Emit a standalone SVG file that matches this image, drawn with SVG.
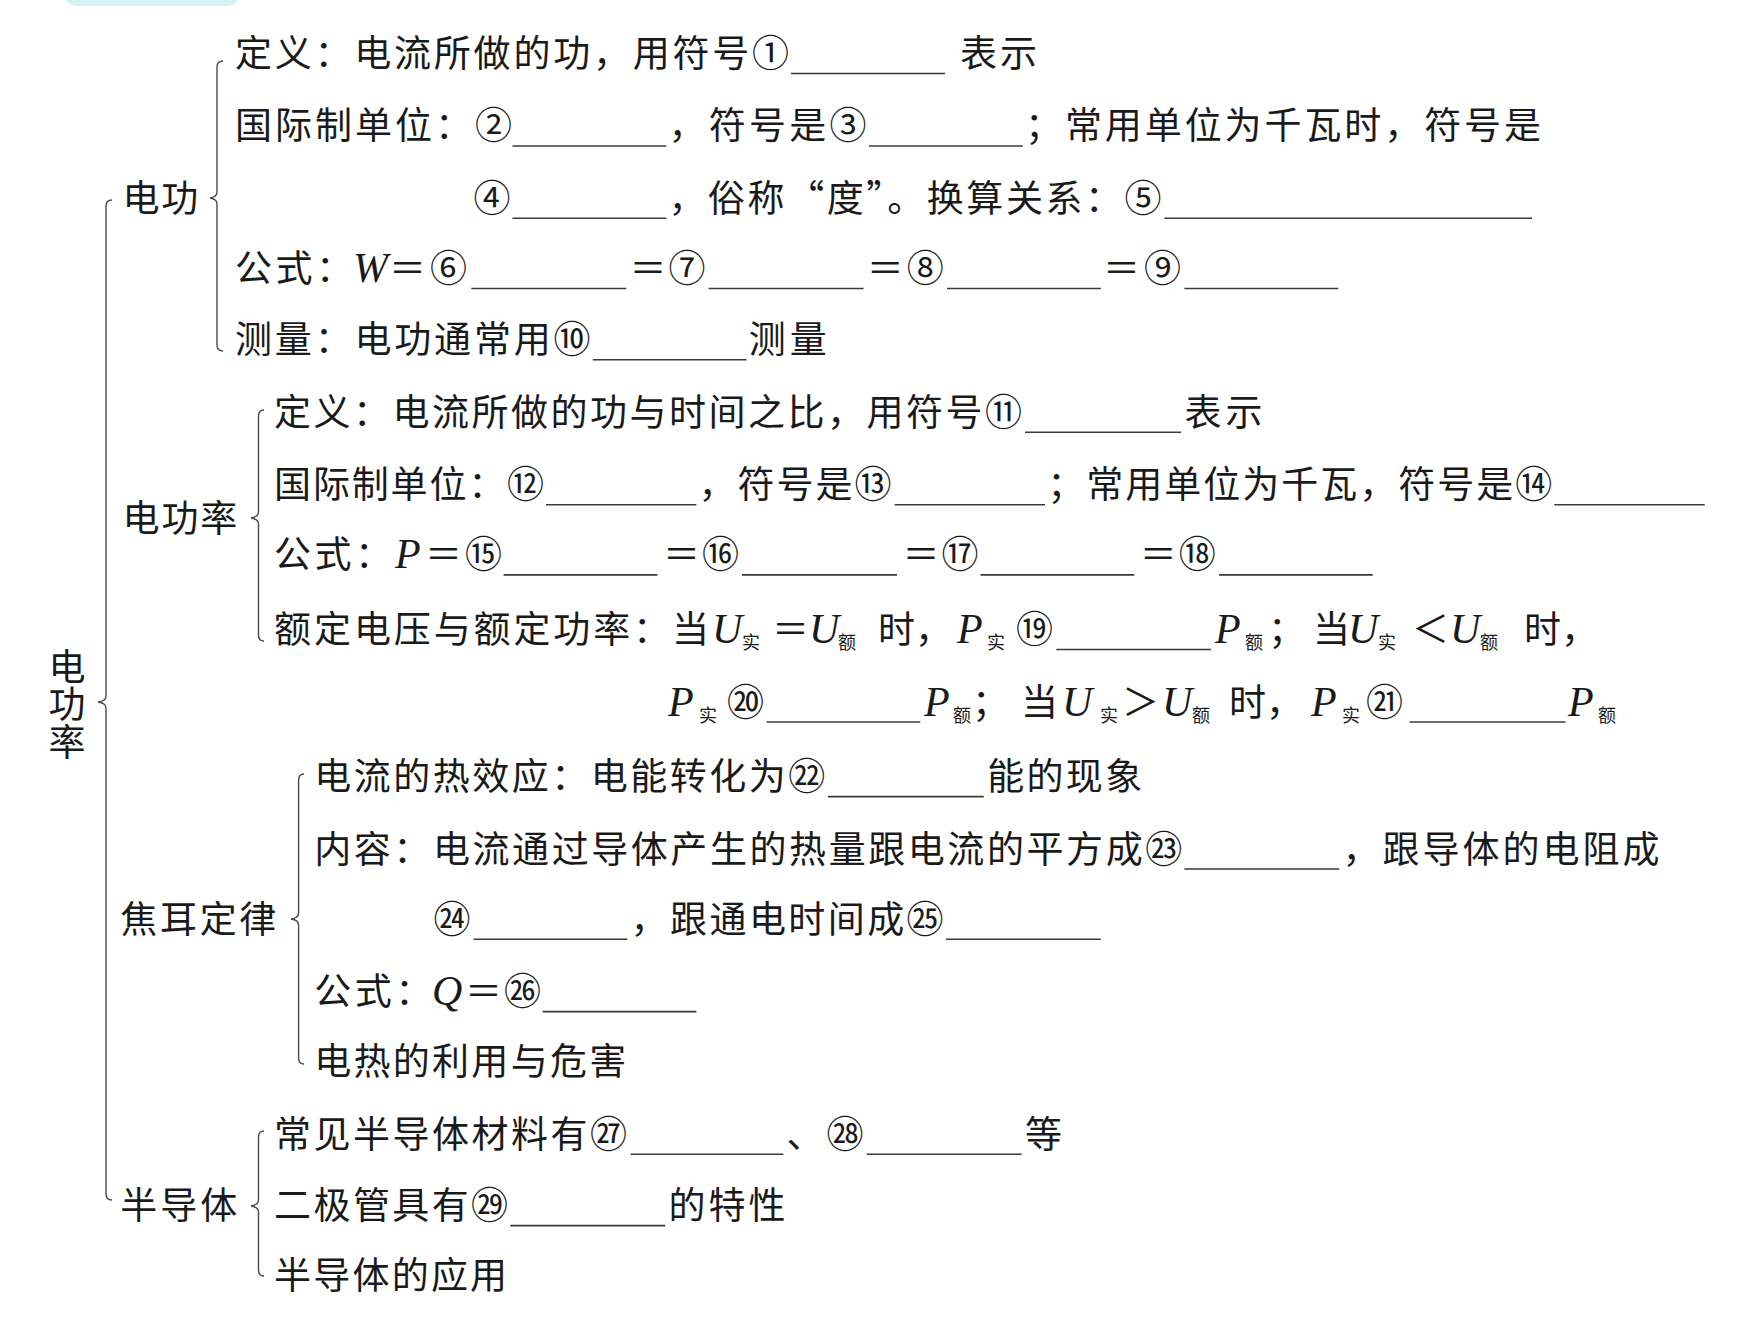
<svg xmlns="http://www.w3.org/2000/svg" width="1747" height="1320" viewBox="0 0 1747 1320">
<style>
.t{font-family:"Noto Sans CJK SC","Noto Sans",sans-serif;font-size:37px;fill:#1a1a1a;font-weight:400}
.i{font-family:"Liberation Serif",serif;font-style:italic;font-size:42px;font-weight:400}
.s{font-family:"Noto Sans CJK SC",sans-serif;font-size:18px;font-style:normal}
.u{stroke:#3a3a3a;stroke-width:1.6}
.br{fill:none;stroke:#4a4a4a;stroke-width:1.4}
.v{writing-mode:vertical-rl;letter-spacing:0.5px}
</style>
<rect width="1747" height="1320" fill="#ffffff"/>
<rect x="60" y="-40" width="184" height="46" rx="18" fill="#d6f1f6"/>

<g id="connectors">
<path class="br" d="M112,200 Q106,200 106,206 L106,696 Q106,701 98,702 Q106,703 106,708 L106,1194 Q106,1200 112,1200"/>
<path class="br" d="M223,61 Q217,61 217,67 L217,192 Q217,197 210,198 Q217,199 217,204 L217,345 Q217,351 223,351"/>
<path class="br" d="M264,410 Q258.5,410 258.5,416 L258.5,512 Q258.5,517 251,518 Q258.5,519 258.5,524 L258.5,635 Q258.5,641 264,641"/>
<path class="br" d="M304,774 Q298.6,774 298.6,780 L298.6,913 Q298.6,918 291,919 Q298.6,920 298.6,925 L298.6,1058 Q298.6,1064 304,1064"/>
<path class="br" d="M264,1131 Q258.5,1131 258.5,1137 L258.5,1200 Q258.5,1205 251,1206 Q258.5,1207 258.5,1212 L258.5,1270 Q258.5,1276 264,1276"/>
</g>

<g id="root">
<text class="t v" x="67" y="648">电功率</text>
</g>

<g id="n-dianGong">
<text class="t" x="122.6" y="211.8" textLength="75.7" lengthAdjust="spacing">电功</text>
<text class="t" x="235" y="67" textLength="554" lengthAdjust="spacing">定义：电流所做的功，用符号①</text>
<line class="u" x1="791" y1="73.5" x2="945" y2="73.5"/>
<text class="t" x="960" y="67" textLength="77" lengthAdjust="spacing">表示</text>

<text class="t" x="235" y="139.4" textLength="277" lengthAdjust="spacing">国际制单位：②</text>
<line class="u" x1="512.5" y1="146" x2="666.3" y2="146"/>
<text class="t" x="668.5" y="139.4" textLength="198" lengthAdjust="spacing">，符号是③</text>
<line class="u" x1="869" y1="146" x2="1022.8" y2="146"/>
<text class="t" x="1025" y="139.4" textLength="516" lengthAdjust="spacing">；常用单位为千瓦时，符号是</text>

<text class="t" x="473.5" y="211.8">④</text>
<line class="u" x1="512.5" y1="218.3" x2="666.3" y2="218.3"/>
<text class="t" x="668.5" y="211.8" textLength="493" lengthAdjust="spacing">，俗称“度”。换算关系：⑤</text>
<line class="u" x1="1164.3" y1="218.3" x2="1532" y2="218.3"/>

<text class="t" x="235" y="282" textLength="118" lengthAdjust="spacing">公式：</text>
<text class="t" y="282"><tspan class="i" x="353">W</tspan><tspan x="389">＝</tspan><tspan x="430">⑥</tspan></text>
<line class="u" x1="471.3" y1="288.5" x2="626.2" y2="288.5"/>
<text class="t" x="629.5" y="282" textLength="76" lengthAdjust="spacing">＝⑦</text>
<line class="u" x1="708.6" y1="288.5" x2="863.5" y2="288.5"/>
<text class="t" x="866.8" y="282" textLength="77" lengthAdjust="spacing">＝⑧</text>
<line class="u" x1="947" y1="288.5" x2="1100.8" y2="288.5"/>
<text class="t" x="1103" y="282" textLength="78" lengthAdjust="spacing">＝⑨</text>
<line class="u" x1="1184.4" y1="288.5" x2="1338.2" y2="288.5"/>

<text class="t" x="235" y="353.3" textLength="355.5" lengthAdjust="spacing">测量：电功通常用⑩</text>
<line class="u" x1="592.8" y1="359.8" x2="746.5" y2="359.8"/>
<text class="t" x="748.7" y="353.3" textLength="78" lengthAdjust="spacing">测量</text>
</g>

<g id="n-dianGongLv">
<text class="t" x="122.6" y="531.5" textLength="114.7" lengthAdjust="spacing">电功率</text>
<text class="t" x="274.1" y="425.8" textLength="748" lengthAdjust="spacing">定义：电流所做的功与时间之比，用符号⑪</text>
<line class="u" x1="1025" y1="432.3" x2="1181" y2="432.3"/>
<text class="t" x="1184.4" y="425.8" textLength="78" lengthAdjust="spacing">表示</text>

<text class="t" x="274.1" y="498.2" textLength="270" lengthAdjust="spacing">国际制单位：⑫</text>
<line class="u" x1="546" y1="504.7" x2="696.4" y2="504.7"/>
<text class="t" x="698.6" y="498.2" textLength="193" lengthAdjust="spacing">，符号是⑬</text>
<line class="u" x1="894.7" y1="504.7" x2="1045" y2="504.7"/>
<text class="t" x="1047.3" y="498.2" textLength="505" lengthAdjust="spacing">；常用单位为千瓦，符号是⑭</text>
<line class="u" x1="1554.3" y1="504.7" x2="1704.7" y2="504.7"/>

<text class="t" x="274.1" y="568.4" textLength="118" lengthAdjust="spacing">公式：</text>
<text class="t" y="568.4"><tspan class="i" x="395">P</tspan><tspan x="425">＝</tspan><tspan x="465">⑮</tspan></text>
<line class="u" x1="503.6" y1="574.9" x2="657.4" y2="574.9"/>
<text class="t" x="663" y="568.4" textLength="76" lengthAdjust="spacing">＝⑯</text>
<line class="u" x1="742" y1="574.9" x2="897" y2="574.9"/>
<text class="t" x="902.5" y="568.4" textLength="76" lengthAdjust="spacing">＝⑰</text>
<line class="u" x1="980.5" y1="574.9" x2="1134.3" y2="574.9"/>
<text class="t" x="1139.8" y="568.4" textLength="76" lengthAdjust="spacing">＝⑱</text>
<line class="u" x1="1219" y1="574.9" x2="1372.7" y2="574.9"/>

<text class="t" x="274.1" y="643" textLength="396" lengthAdjust="spacing">额定电压与额定功率：</text>
<text class="t" y="643"><tspan x="672">当</tspan><tspan class="i" x="712">U</tspan><tspan class="s" x="742" y="649">实</tspan><tspan x="772" y="643">＝</tspan><tspan class="i" x="809">U</tspan><tspan class="s" x="838" y="649">额</tspan><tspan x="878" y="643">时，</tspan><tspan class="i" x="957">P</tspan><tspan class="s" x="987" y="649">实</tspan><tspan x="1016" y="643">⑲</tspan></text>
<line class="u" x1="1056.3" y1="649.5" x2="1211" y2="649.5"/>
<text class="t" y="643"><tspan class="i" x="1215">P</tspan><tspan class="s" x="1245" y="649">额</tspan><tspan x="1268" y="643">；</tspan><tspan x="1313">当</tspan><tspan class="i" x="1348">U</tspan><tspan class="s" x="1378" y="649">实</tspan><tspan x="1412" y="643">＜</tspan><tspan class="i" x="1450">U</tspan><tspan class="s" x="1480" y="649">额</tspan><tspan x="1524" y="643">时，</tspan></text>

<text class="t" y="715.5"><tspan class="i" x="668">P</tspan><tspan class="s" x="699" y="721.5">实</tspan><tspan x="727" y="715.5">⑳</tspan></text>
<line class="u" x1="766.6" y1="722" x2="920.3" y2="722"/>
<text class="t" y="715.5"><tspan class="i" x="924">P</tspan><tspan class="s" x="953" y="721.5">额</tspan><tspan x="972" y="715.5">；</tspan><tspan x="1021">当</tspan><tspan class="i" x="1062">U</tspan><tspan class="s" x="1100" y="721.5">实</tspan><tspan x="1122" y="715.5">＞</tspan><tspan class="i" x="1162">U</tspan><tspan class="s" x="1192" y="721.5">额</tspan><tspan x="1229" y="715.5">时，</tspan><tspan class="i" x="1311">P</tspan><tspan class="s" x="1342" y="721.5">实</tspan><tspan x="1366" y="715.5">㉑</tspan></text>
<line class="u" x1="1409.5" y1="722" x2="1565.5" y2="722"/>
<text class="t" y="715.5"><tspan class="i" x="1568">P</tspan><tspan class="s" x="1598" y="721.5">额</tspan></text>
</g>

<g id="n-jiaoEr">
<text class="t" x="120.3" y="932.7" textLength="156" lengthAdjust="spacing">焦耳定律</text>
<text class="t" x="314.2" y="790.1" textLength="511" lengthAdjust="spacing">电流的热效应：电能转化为㉒</text>
<line class="u" x1="827.8" y1="796.6" x2="983.8" y2="796.6"/>
<text class="t" x="987.2" y="790.1" textLength="155" lengthAdjust="spacing">能的现象</text>

<text class="t" x="314.2" y="862.5" textLength="868" lengthAdjust="spacing">内容：电流通过导体产生的热量跟电流的平方成㉓</text>
<line class="u" x1="1184.4" y1="869" x2="1339.3" y2="869"/>
<text class="t" x="1342.6" y="862.5" textLength="317" lengthAdjust="spacing">，跟导体的电阻成</text>

<text class="t" x="433.4" y="932.7">㉔</text>
<line class="u" x1="473.5" y1="939.2" x2="627.3" y2="939.2"/>
<text class="t" x="630.6" y="932.7" textLength="313" lengthAdjust="spacing">，跟通电时间成㉕</text>
<line class="u" x1="946" y1="939.2" x2="1100.8" y2="939.2"/>

<text class="t" x="314.2" y="1005.1" textLength="118" lengthAdjust="spacing">公式：</text>
<text class="t" y="1005.1"><tspan class="i" x="432">Q</tspan><tspan x="465">＝</tspan><tspan x="504">㉖</tspan></text>
<line class="u" x1="542.6" y1="1011.6" x2="696.4" y2="1011.6"/>

<text class="t" x="314.2" y="1075.3" textLength="312" lengthAdjust="spacing">电热的利用与危害</text>
</g>

<g id="n-banDaoTi">
<text class="t" x="120.3" y="1219.1" textLength="117" lengthAdjust="spacing">半导体</text>
<text class="t" x="274.1" y="1147.8" textLength="353" lengthAdjust="spacing">常见半导体材料有㉗</text>
<line class="u" x1="630.6" y1="1154.3" x2="783.3" y2="1154.3"/>
<text class="t" x="786.6" y="1147.8" textLength="77" lengthAdjust="spacing">、㉘</text>
<line class="u" x1="866.8" y1="1154.3" x2="1021.7" y2="1154.3"/>
<text class="t" x="1025" y="1147.8">等</text>

<text class="t" x="274.1" y="1219.1" textLength="234" lengthAdjust="spacing">二极管具有㉙</text>
<line class="u" x1="510.3" y1="1225.6" x2="665.2" y2="1225.6"/>
<text class="t" x="668.5" y="1219.1" textLength="117" lengthAdjust="spacing">的特性</text>

<text class="t" x="274.1" y="1289.3" textLength="233" lengthAdjust="spacing">半导体的应用</text>
</g>
</svg>
